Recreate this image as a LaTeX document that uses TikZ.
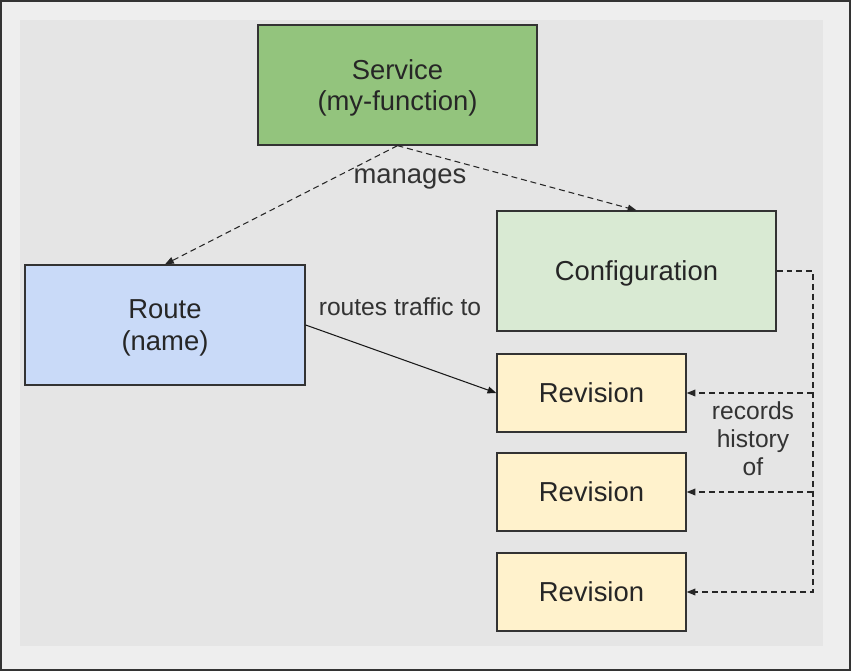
\documentclass[tikz,border=0pt]{standalone}
\usepackage{fontspec}
\setmainfont{Liberation Sans}
\usetikzlibrary{arrows.meta}

\definecolor{framegray}{HTML}{EEEEEE}
\definecolor{panelgray}{HTML}{E5E5E5}
\definecolor{edgegray}{HTML}{333333}
\definecolor{servicegreen}{HTML}{93C47D}
\definecolor{routeblue}{HTML}{C9DAF8}
\definecolor{configgreen}{HTML}{D9EAD3}
\definecolor{revyellow}{HTML}{FFF2CC}

\begin{document}
\begin{tikzpicture}[
  x=0.025cm, y=-0.025cm,
  box/.style={rectangle, draw=edgegray, line width=0.9pt, minimum width=6.975cm, minimum height=3cm, font=\fontsize{19.5}{22.5}\selectfont, text=black!85, align=center, text depth=0pt},
  revbox/.style={box, fill=revyellow, minimum width=4.725cm, minimum height=1.95cm},
  lbl/.style={font=\fontsize{17.5}{20}\selectfont, text=black!80, align=center},
  tip/.style={-{Triangle[length=2.2mm, width=1.7mm]}},
  dasharr/.style={tip, line width=0.75pt, black!85, dash pattern=on 4.2pt off 2.8pt},
  solarr/.style={tip, line width=0.75pt, black!90}
]

\useasboundingbox (0,0) rectangle (851,671);
\draw[fill=framegray, draw=edgegray, line width=1.2pt] (0.8,0.8) rectangle (850.2,670.2);
\fill[panelgray] (20,20) rectangle (823,646);

\node[box, fill=servicegreen] (service) at (397.5, 85) {Service\\(my-function)};
\node[box, fill=routeblue, minimum width=7cm] (route) at (165, 325) {Route\\(name)};
\node[box, fill=configgreen] (config) at (636.5, 271) {Configuration};

\node[revbox] (rev1) at (591.5, 393) {Revision};
\node[revbox] (rev2) at (591.5, 492) {Revision};
\node[revbox] (rev3) at (591.5, 592) {Revision};

\coordinate (trunk) at (813, 271);

\draw[dasharr] (service.south) -- (route.north);
\draw[dasharr] (service.south) -- (config.north);
\draw[solarr] (route.east) -- (rev1.west);

\draw[dasharr] (config.east) -- (trunk) |- (rev3.east);
\draw[dasharr] (trunk |- rev1.east) -- (rev1.east);
\draw[dasharr] (trunk |- rev2.east) -- (rev2.east);

\node[lbl, font=\fontsize{19.5}{23}\selectfont] (managesLbl) at (410, 179) {manages};
\node[lbl] (routesLbl) at (400, 307) {routes traffic to};
\node[lbl] (historyLbl) at (753, 439) {records\\history\\of};

\end{tikzpicture}
\end{document}
